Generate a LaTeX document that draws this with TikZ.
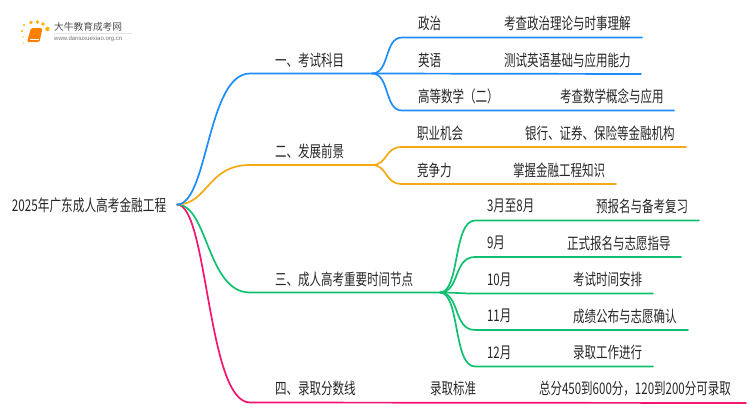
\documentclass[tikz,border=0pt]{standalone}
\usepackage{fontspec}
\setmainfont{Noto Sans CJK SC}[FakeStretch=0.72]
\newfontfamily\urlfont{Liberation Sans}
\newfontfamily\logofont{Noto Sans CJK SC}
\definecolor{cblue}{HTML}{1E8CFA}
\definecolor{corange}{HTML}{F5A914}
\definecolor{cgreen}{HTML}{10C070}
\definecolor{cpink}{HTML}{F5146E}
\tikzset{
  lbl/.style={anchor=west,inner sep=0pt,outer sep=0pt,text=black!85,font=\fontsize{16}{16}\selectfont},
  root/.style={lbl,font=\fontsize{16.2}{16}\selectfont},
  link/.style={line width=1.7pt,line cap=round},
  dot/.style={fill=orange!60!yellow}
}
\begin{document}
\begin{tikzpicture}[x=1pt,y=-1pt]
\useasboundingbox (0,0) rectangle (750,410);
% logo
\fill[dot] (24,25) circle (1.2);
\fill[dot] (22,31) circle (1.2);
\fill[dot,opacity=.7] (23,37) circle (0.9);
\fill[dot,opacity=.5] (23.5,43) circle (0.9);
\fill[dot] (31,22.5) circle (1.8);
\fill[dot] (37.5,22) circle (1.8);
\fill[dot] (43,24) circle (1.9);
\fill[dot] (47.5,29) circle (2.2);
\fill[orange,rounded corners=1.5pt] (31,28) -- (42.5,28) -- (39.5,42) -- (27,42) -- cycle;
\draw[white,line width=.5pt] (30,39.5) -- (39,39.5);
\draw[black!10,line width=.6pt] (54,33) -- (132,33);
\node[inner sep=0pt,anchor=west,text=black!70,font=\logofont\fontsize{9.7}{10}\selectfont] (logoa) at (54,27) {大牛教育成考网};
\node[inner sep=0pt,anchor=west,text=black!55,font=\urlfont\fontsize{6}{6}\selectfont] (logob) at (54,39) {www.daniuxuexiao.org.cn};
% root
\node[root] (r) at (12,205) {2025年广东成人高考金融工程};
\coordinate (o) at (177,204.5);
% level 1 hubs
\coordinate (a1) at (250,73.5); \coordinate (ah) at (372,73.5);
\coordinate (b1) at (250,165); \coordinate (bh) at (372,165);
\coordinate (c1) at (250,292.5); \coordinate (ch) at (440,292.5);
\coordinate (d1) at (250,402.5); \coordinate (dh) at (746,403);
% level 2 start / end
\foreach \n/\xa/\xb/\y in {a/402/642/37.5,b/402/641/74,c/402/674/110.5,d/402/686/147,e/402/616/184,f/475/699/220.5,g/475/681/257,h/475/653/293.5,i/475/688/330,j/475/653/366.5}{
  \coordinate (s\n) at (\xa,\y); \coordinate (t\n) at (\xb,\y);
}
% connectors
\begin{scope}[link]
\draw[cpink] (o) .. controls (208,204.5) and (207,402.5) .. (d1) -- (dh);
\draw[cgreen] (o) .. controls (208,204.5) and (207,292.5) .. (c1) -- (ch);
\draw[corange] (o) .. controls (208,204.5) and (207,165) .. (b1) -- (bh);
\draw[cblue] (o) .. controls (208,204.5) and (207,73.5) .. (a1) -- (ah);
\draw[cblue] (ah) .. controls (390,73.5) and (384,37.5) .. (sa) -- (ta);
\draw[cblue] (ah) -- (tb);
\draw[cblue] (ah) .. controls (390,73.5) and (384,110.5) .. (sc) -- (tc);
\draw[corange] (bh) .. controls (388,165) and (384,147) .. (sd) -- (td);
\draw[corange] (bh) .. controls (388,165) and (384,184) .. (se) -- (te);
\draw[cgreen] (ch) .. controls (460,292.5) and (453,220.5) .. (sf) -- (tf);
\draw[cgreen] (ch) .. controls (460,292.5) and (453,257) .. (sg) -- (tg);
\draw[cgreen] (ch) .. controls (455,292.5) and (460,293.5) .. (sh) -- (th);
\draw[cgreen] (ch) .. controls (460,292.5) and (453,330) .. (si) -- (ti);
\draw[cgreen] (ch) .. controls (460,292.5) and (453,366.5) .. (sj) -- (tj);
\end{scope}
% labels
\node[lbl] (n1) at (275,60.5) {一、考试科目};
\node[lbl] (n2) at (275,151.5) {二、发展前景};
\node[lbl] (n3) at (275,279) {三、成人高考重要时间节点};
\node[lbl] (n4) at (275,388.5) {四、录取分数线};
\node[lbl] (l1) at (418,23.5) {政治};
\node[lbl] (l2) at (418,60) {英语};
\node[lbl] (l3) at (418,96.5) {高等数学（二）};
\node[lbl] (l4) at (417,133) {职业机会};
\node[lbl] (l5) at (417,170) {竞争力};
\node[lbl] (l6) at (487,206) {3月至8月};
\node[lbl] (l7) at (487,243) {9月};
\node[lbl] (l8) at (487,279.5) {10月};
\node[lbl] (l9) at (487,316) {11月};
\node[lbl] (l10) at (487,352.5) {12月};
\node[lbl] (l11) at (430,388.5) {录取标准};
\node[lbl] (m1) at (504,23.5) {考查政治理论与时事理解};
\node[lbl] (m2) at (504,60) {测试英语基础与应用能力};
\node[lbl] (m3) at (560,96.5) {考查数学概念与应用};
\node[lbl] (m4) at (525,133) {银行、证券、保险等金融机构};
\node[lbl] (m5) at (513,170) {掌握金融工程知识};
\node[lbl] (m6) at (596,206) {预报名与备考复习};
\node[lbl] (m7) at (567,243) {正式报名与志愿指导};
\node[lbl] (m8) at (573,279.5) {考试时间安排};
\node[lbl] (m9) at (573,316) {成绩公布与志愿确认};
\node[lbl] (m10) at (573,352.5) {录取工作进行};
\node[lbl] (m11) at (539,388.5) {总分450到600分，120到200分可录取};
\end{tikzpicture}
\end{document}
